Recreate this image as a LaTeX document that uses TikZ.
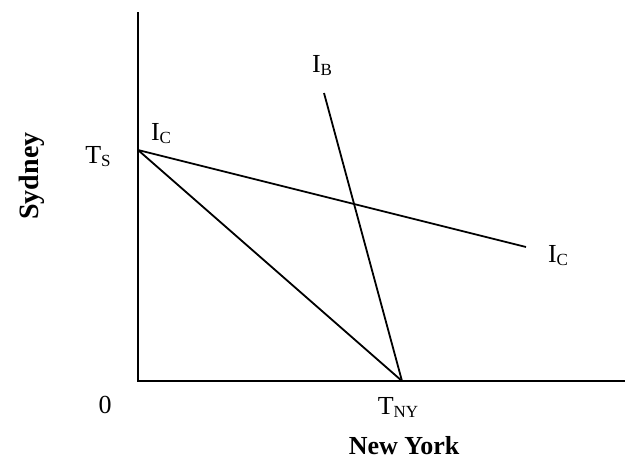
\documentclass[tikz,border=0pt]{standalone}
\usepackage{fontspec}
\setmainfont{Liberation Serif}
\usepackage{tikz}
\newcommand{\sublbl}[2]{#1\raisebox{-0.12em}{\fontsize{17}{17}\selectfont #2}}
\tikzset{
  lbl/.style={inner sep=0pt, anchor=base, font=\fontsize{26}{30}\selectfont},
  axlbl/.style={inner sep=0pt, anchor=base, font=\fontsize{26}{30}\selectfont\bfseries},
  curve/.style={line width=1.8pt}
}
\begin{document}
\begin{tikzpicture}[x=1pt,y=-1pt]
        \useasboundingbox (0,0) rectangle (625,463);
        \coordinate (o) at (138,381);
        \coordinate (ytop) at (138,12);
        \coordinate (xend) at (625,381);
        \draw[curve] (ytop) -- (o) -- (xend);

        \coordinate (ts) at (138,150);
        \coordinate (tny) at (402,381);
        \coordinate (icend) at (526,247);
        \coordinate (ibtop) at (324,93);
        \draw[curve] (ts) -- (tny);
        \draw[curve] (ts) -- (icend);
        \draw[curve] (ibtop) -- (tny);

        \node[lbl] (zero) at (105,413) {0};
        \node[lbl] (tslbl) at (98,163) {\sublbl{T}{S}};
        \node[lbl] (iclbl) at (161,140) {\sublbl{I}{C}};
        \node[lbl] (iblbl) at (322,72) {\sublbl{I}{B}};
        \node[lbl] (icrlbl) at (558,262) {\sublbl{I}{C}};
        \node[lbl] (tnylbl) at (398,414) {\sublbl{T}{NY}};

        \node[axlbl] (nylbl) at (404,454) {New York};
        \node[axlbl, rotate=90, font=\fontsize{28}{32}\selectfont\bfseries] (sydlbl) at (38,176) {Sydney};
      \end{tikzpicture}
\end{document}
